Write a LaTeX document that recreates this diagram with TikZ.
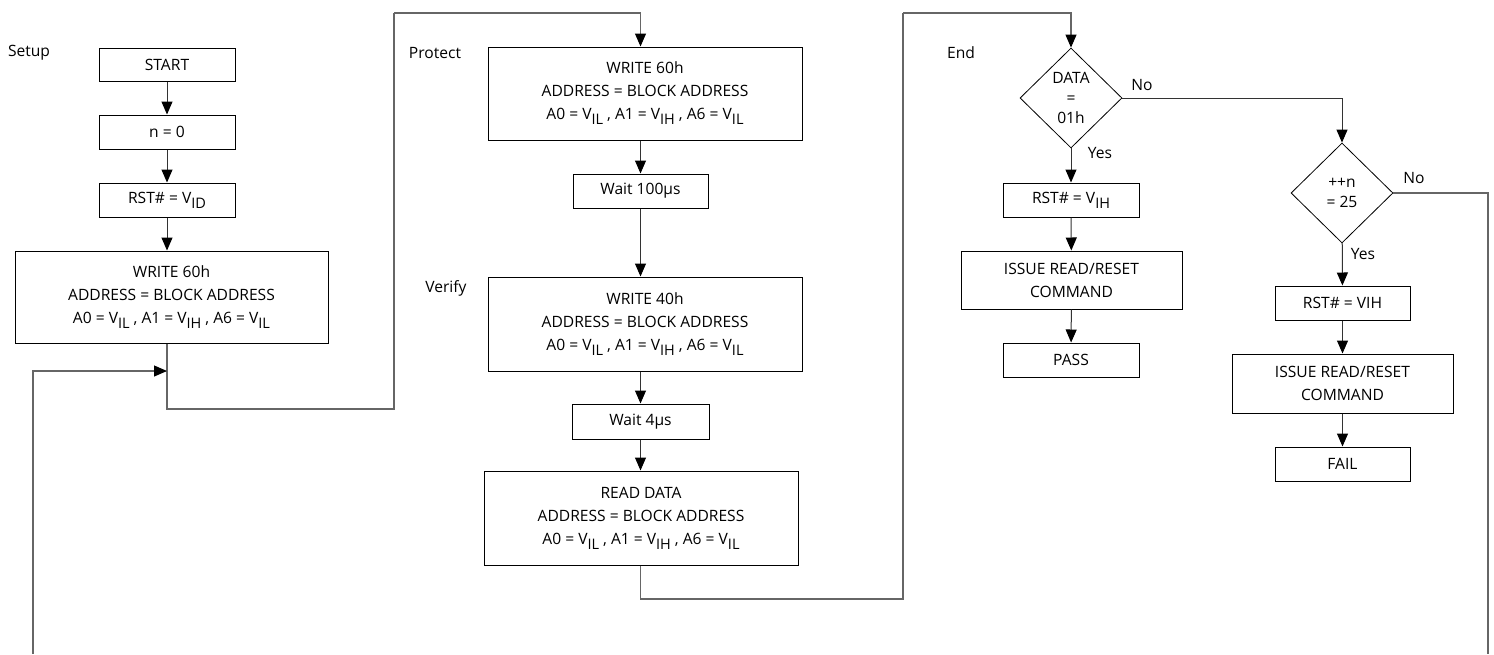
\documentclass[tikz,border=0pt]{standalone}
\usepackage{fontspec}
\setmainfont{Open Sans}
\usetikzlibrary{arrows.meta,shapes.geometric}
\newcommand\lo[1]{\raisebox{-5pt}{\fontsize{14.5}{14.5}\selectfont #1}}
\begin{document}
\begin{tikzpicture}[x=1pt,y=-1pt,
  every node/.style={font=\fontsize{15.6}{23}\selectfont},
  pbox/.style={draw=black,line width=1pt,inner sep=0pt,align=center,minimum width=#1},
  dia/.style={draw=black,line width=0.8pt,diamond,inner sep=0pt,align=center,minimum width=102pt,minimum height=100pt,font=\fontsize{15.6}{20}\selectfont},
  conn/.style={draw=black!80,line width=1pt,-{Triangle[length=13pt,width=11pt,color=black]}},
  loop/.style={draw=black!60,line width=1.1pt},
  lbl/.style={inner sep=0pt}
]
\useasboundingbox (0,0) rectangle (1494,654);
% Setup column
\node[lbl] (lsetup) at (29,53) {Setup};
\node[pbox=136pt,minimum height=33pt] (start) at (167,64.5) {START};
\node[pbox=136pt,minimum height=34pt] (n0) at (167,132) {n = 0};
\node[pbox=136pt,minimum height=34pt] (rstid) at (167,200) {RST\# = V\lo{ID}};
\node[pbox=313pt,minimum height=92pt] (w60a) at (171.5,297) {WRITE 60h\\ADDRESS = BLOCK ADDRESS\\A0 = V\lo{IL} , A1 = V\lo{IH} , A6 = V\lo{IL}};
% Protect / Verify column
\node[lbl] (lprot) at (435,53) {Protect};
\node[lbl] (lver) at (446,288) {Verify};
\node[pbox=314pt,minimum height=93pt] (w60b) at (645,93.5) {WRITE 60h\\ADDRESS = BLOCK ADDRESS\\A0 = V\lo{IL} , A1 = V\lo{IH} , A6 = V\lo{IL}};
\node[pbox=135pt,minimum height=34pt] (wait100) at (640.5,191) {Wait 100µs};
\node[pbox=314pt,minimum height=94pt] (w40) at (645,324) {WRITE 40h\\ADDRESS = BLOCK ADDRESS\\A0 = V\lo{IL} , A1 = V\lo{IH} , A6 = V\lo{IL}};
\node[pbox=137pt,minimum height=35pt] (wait4) at (640.5,421.5) {Wait 4µs};
\node[pbox=314pt,minimum height=94pt] (read) at (641,518) {READ DATA\\ADDRESS = BLOCK ADDRESS\\A0 = V\lo{IL} , A1 = V\lo{IH} , A6 = V\lo{IL}};
% End column
\node[lbl] (lend) at (961,53) {End};
\node[dia] (d1) at (1071,98) {DATA\\=\\01h};
\node[pbox=136pt,minimum height=34pt] (rstih) at (1071,200) {RST\# = V\lo{IH}};
\node[pbox=221pt,minimum height=58pt] (issue1) at (1071.5,280) {ISSUE READ/RESET\\COMMAND};
\node[pbox=136pt,minimum height=34pt] (pass) at (1071,360) {PASS};
\node[dia] (d2) at (1342,193) {++n\\= 25};
\node[pbox=135pt,minimum height=34pt] (rstvih) at (1342.5,303) {RST\# = VIH};
\node[pbox=221pt,minimum height=59pt] (issue2) at (1342.5,383.5) {ISSUE READ/RESET\\COMMAND};
\node[pbox=135pt,minimum height=34pt] (fail) at (1342.5,464) {FAIL};
% labels on branches
\node[lbl] (yes1) at (1100,153) {Yes};
\node[lbl] (no1) at (1142,85) {No};
\node[lbl] (yes2) at (1363,254) {Yes};
\node[lbl] (no2) at (1414,178) {No};
% coordinates
\coordinate (a1) at (394,409);
\coordinate (a2) at (394,13);
\coordinate (b1) at (903,599);
\coordinate (b2) at (903,13);
\coordinate (lb) at (33,654);
\coordinate (lj) at (167,371);
\coordinate (rb) at (1488,654);
% connectors
\draw[conn] (start) -- (n0);
\draw[conn] (n0) -- (rstid);
\draw[conn] (rstid) -- (rstid |- w60a.north);
\draw[loop] (start |- w60a.south) |- (a1) -- (a2);
\draw[conn,draw=black!60,line width=1.1pt] (a2) -| (wait100 |- w60b.north);
\draw[conn,draw=black!60,line width=1.1pt] (lb) |- (lj);
\draw[conn] (wait100 |- w60b.south) -- (wait100);
\draw[conn] (wait100) -- (wait100 |- w40.north);
\draw[conn] (wait100 |- w40.south) -- (wait100 |- wait4.north);
\draw[conn] (wait100 |- wait4.south) -- (wait100 |- read.north);
\draw[loop] (wait100 |- read.south) |- (b1) -- (b2);
\draw[conn,draw=black!60,line width=1.1pt] (b2) -| (d1.north);
\draw[conn] (d1) -- (rstih);
\draw[conn] (rstih) -- (issue1);
\draw[conn] (issue1) -- (pass);
\draw[conn] (d1.east) -| (d2.north);
\draw[conn] (d2) -- (rstvih);
\draw[conn] (rstvih) -- (issue2);
\draw[conn] (issue2) -- (fail);
\draw[loop] (d2.east) -| (rb);
\end{tikzpicture}
\end{document}
